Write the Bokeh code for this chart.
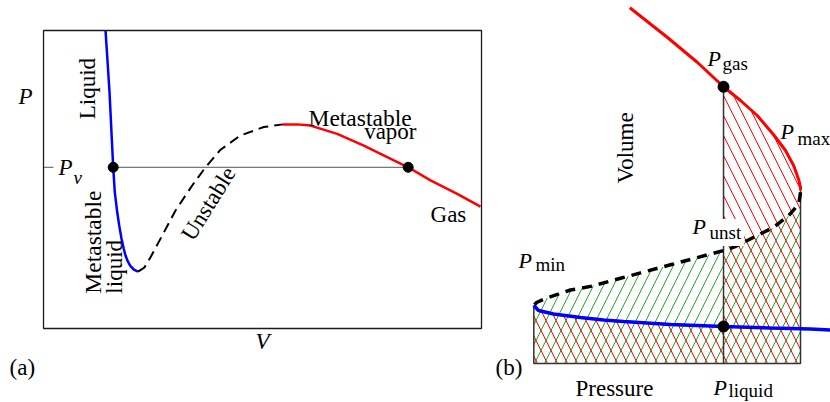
import math
from bokeh.plotting import figure
from bokeh.models import Range1d, Label, BoxAnnotation
from bokeh.embed import file_html
from bokeh.resources import INLINE

# ---------------- Panel (a): P-V isotherm (box units 0..10 on both axes) ----------------
liq_V = [1.416, 1.507, 1.591, 1.628, 1.683, 1.728, 1.781, 1.833, 1.872, 1.925, 1.986, 2.062, 2.160]
liq_P = [10.00, 7.93, 5.41, 4.57, 3.90, 3.46, 3.01, 2.67, 2.45, 2.25, 2.09, 1.98, 1.91]
uns_V = [2.160, 2.300, 2.443, 2.710, 3.014, 3.395, 3.699, 4.041, 4.498, 5.030, 5.468]
uns_P = [1.91, 2.04, 2.39, 3.12, 3.96, 4.80, 5.41, 6.00, 6.48, 6.76, 6.85]
gas_V = [5.468, 5.800, 6.096, 6.705, 7.313, 7.847, 8.326, 8.836, 9.445, 9.977]
gas_P = [6.85, 6.85, 6.81, 6.53, 6.14, 5.75, 5.41, 4.97, 4.52, 4.09]
P_v = 5.41
V_liq_a = 1.591
V_gas_a = 8.326
BOX_V = (0, 10)
BOX_P = (0, 10)

# ---------------- Panel (b): volume vs pressure ----------------
gasb_P = [3.675, 4.367, 4.923, 5.410, 5.725, 6.034, 6.341, 6.558, 6.712, 6.804, 6.836, 6.836]
gasb_V = [14.23, 13.05, 12.05, 11.07, 10.52, 9.92, 9.14, 8.52, 7.90, 7.34, 7.04, 6.92]
unsb_P = [6.836, 6.804, 6.619, 6.341, 5.971, 5.601, 5.416, 4.799, 4.429, 3.873, 3.503, 2.947,
          2.577, 2.114, 1.947, 1.897]
unsb_V = [6.852, 6.388, 5.920, 5.452, 5.052, 4.652, 4.520, 4.164, 3.948, 3.624, 3.408, 3.084,
          2.940, 2.600, 2.440, 2.320]
liqb_P = [1.897, 1.984, 2.262, 2.762, 3.188, 3.558, 4.429, 5.410, 6.280, 7.021, 7.391]
liqb_V = [2.32, 2.12, 1.98, 1.84, 1.74, 1.68, 1.56, 1.48, 1.42, 1.38, 1.34]
P_liq = 5.41
P_min = 1.897
P_max = 6.836
V_gas_b = 11.07
V_liq_b = 1.48

FONT = "Liberation Serif"
FS = "23px"
FS_P = "22px"
FS_SUB = "19px"
TICK = 0.228  # tick length in V units (panel a)

p = figure(width=830, height=402,
           x_range=Range1d(-0.982, 17.968), y_range=Range1d(-2.483, 11.007),
           x_axis_type=None, y_axis_type=None, output_backend="svg", toolbar_location=None,
           min_border_left=0, min_border_right=0, min_border_top=0, min_border_bottom=0,
           title=None)
p.outline_line_color = None
p.extra_x_ranges = {"pb": Range1d(-7.979, 7.391)}
p.extra_y_ranges = {"vb": Range1d(-1.56, 14.52)}
B = dict(x_range_name="pb", y_range_name="vb")


def lab(x, y, text, size=FS, style="normal", align="left", baseline="alphabetic",
        angle=0.0, bg=None, panel_b=False):
    kw = dict(B) if panel_b else {}
    l = Label(x=x, y=y, text=text, text_font=FONT, text_font_size=size, text_font_style=style,
              text_align=align, text_baseline=baseline, angle=angle, text_color="black", **kw)
    if bg is not None:
        l.background_fill_color = bg
        l.padding = 3
    p.add_layout(l)


# ---------------- panel (a) ----------------
p.add_layout(BoxAnnotation(left=BOX_V[0], right=BOX_V[1], bottom=BOX_P[0], top=BOX_P[1],
                           fill_color=None, fill_alpha=0, line_color="#1a1a1a", line_width=1.3,
                           line_alpha=1.0))
p.segment(x0=[BOX_V[0]], y0=[P_v], x1=[BOX_V[0] + TICK], y1=[P_v], line_color="#555555", line_width=1)
p.line([V_liq_a, V_gas_a], [P_v, P_v], line_color="#555555", line_width=1)
p.line(liq_V, liq_P, line_color="#0000ff", line_width=2.5)
p.line(uns_V, uns_P, line_color="black", line_width=2, line_dash="10 6")
p.line(gas_V, gas_P, line_color="#ff0000", line_width=2.5)
p.scatter([V_liq_a, V_gas_a], [P_v, P_v], size=10, color="black")

lab(-0.571, 7.78, "P", style="italic")
lab(0.342, 5.40, "P", style="italic")
lab(0.685, 5.07, "v", size=FS_SUB, style="italic")
lab(1.005, 8.05, "Liquid", align="center", angle=math.pi / 2)
lab(1.140, 1.17, "Metastable", size="23.5px", angle=math.pi / 2)
lab(1.620, 1.17, "liquid", angle=math.pi / 2)
lab(3.767, 4.19, "Unstable", align="center", baseline="middle", angle=math.radians(58))
lab(6.05, 7.05, "Metastable", size="23.5px")
lab(8.516, 6.61, "vapor", align="right")
lab(8.836, 3.82, "Gas")
lab(5.0, -0.44, "V", style="italic", align="center")
lab(-0.776, -1.31, "(a)")

# ---------------- panel (b) ----------------
red1_P = [q for q in liqb_P if q <= P_liq]
red1_V = [v for q, v in zip(liqb_P, liqb_V) if q <= P_liq]
red2_P = [q for q in gasb_P if q >= P_liq]
red2_V = [v for q, v in zip(gasb_P, gasb_V) if q >= P_liq]

p.varea(x=unsb_P, y1=[0] * len(unsb_P), y2=unsb_V, fill_color=None,
        hatch_pattern="/", hatch_color="#22aa22", hatch_scale=20, hatch_weight=1, **B)
p.varea(x=red1_P, y1=[0] * len(red1_P), y2=red1_V, fill_color=None,
        hatch_pattern="\\", hatch_color="#ff0000", hatch_scale=20, hatch_weight=1, **B)
p.varea(x=red2_P, y1=[0] * len(red2_P), y2=red2_V, fill_color=None,
        hatch_pattern="\\", hatch_color="#ff0000", hatch_scale=20, hatch_weight=1, **B)

p.line([P_min, P_min, P_max, P_max], [liqb_V[0], 0, 0, gasb_V[-1]],
       line_color="#333333", line_width=1.5, **B)
p.line([P_liq, P_liq], [0, V_gas_b], line_color="#333333", line_width=1.5, **B)
p.line(gasb_P, gasb_V, line_color="#ff0000", line_width=3, **B)
p.line(unsb_P, unsb_V, line_color="black", line_width=3.5, line_dash="10 7", **B)
p.line(liqb_P, liqb_V, line_color="#0000ff", line_width=3.5, **B)
p.scatter([P_liq, P_liq], [V_gas_b, V_liq_b], size=11, color="black", **B)

lab(5.114, 12.21, "P", size=FS_P, style="italic", panel_b=True)
lab(5.391, 12.02, "gas", size=FS_SUB, panel_b=True)
lab(6.466, 9.27, "P", size=FS_P, style="italic", panel_b=True)
lab(6.780, 9.00, "max", size=FS_SUB, panel_b=True)
lab(5.095, 5.24, "unst", size=FS_SUB, bg="white", panel_b=True)
lab(4.836, 5.47, "P", size=FS_P, style="italic", panel_b=True)
lab(1.614, 4.11, "P", size=FS_P, style="italic", panel_b=True)
lab(1.929, 3.96, "min", size=FS_SUB, panel_b=True)
lab(5.225, -0.97, "P", size=FS_P, style="italic", panel_b=True)
lab(5.503, -1.08, "liquid", size=FS_SUB, panel_b=True)
lab(2.669, -0.98, "Pressure", panel_b=True)
lab(3.595, 7.20, "Volume", angle=math.pi / 2, panel_b=True)
lab(1.188, -0.14, "(b)", panel_b=True)

open("out.html", "w").write(file_html(p, INLINE))
